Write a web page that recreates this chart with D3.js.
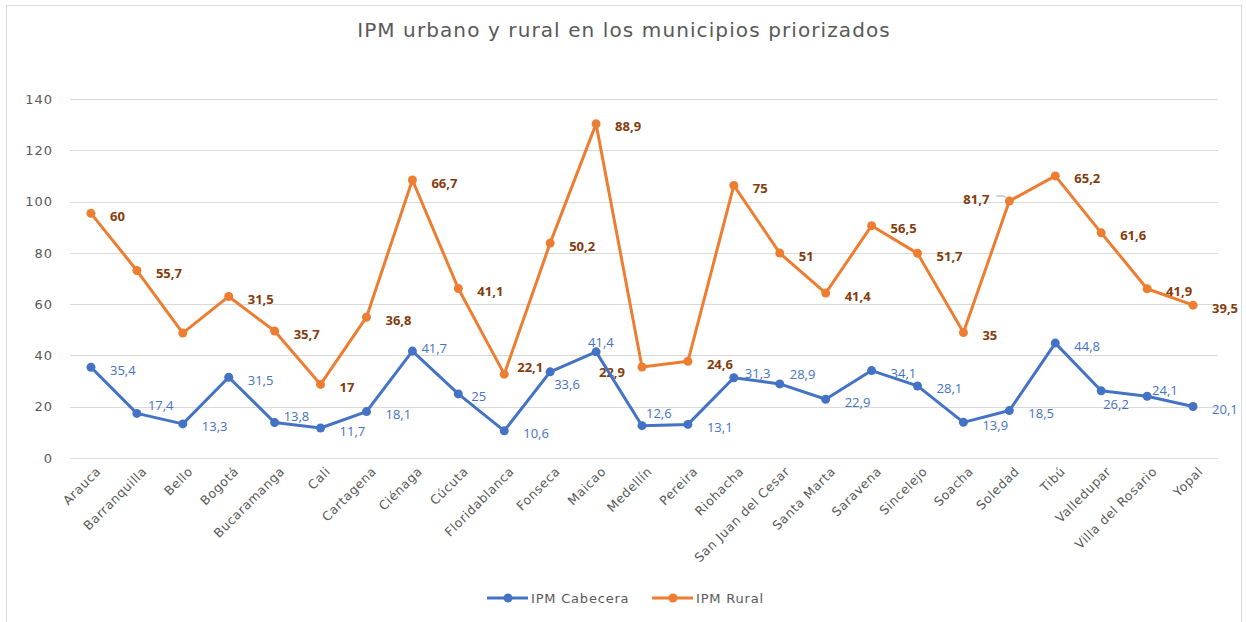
<!DOCTYPE html>
<html lang="es">
<head>
    <meta charset="UTF-8">
    <title>IPM urbano y rural en los municipios priorizados</title>
    <style>
        body, html {
            margin: 0;
            padding: 0;
            background-color: #ffffff;
            font-family: "DejaVu Sans", "Noto Sans", sans-serif;
        }
        svg {
            display: block;
        }
        .grid line {
            stroke: #d9d9d9;
            stroke-width: 1px;
        }
        .axis text {
            fill: #595959;
            font-family: "DejaVu Sans", sans-serif;
            font-size: 13px;
            letter-spacing: 1px;
        }
        .line {
            fill: none;
            stroke-width: 3px;
            stroke-linejoin: round;
        }
        .lbl-cab {
            fill: #4472c4;
            font-family: "Open Sans", sans-serif;
            font-size: 13px;
        }
        .lbl-rur {
            fill: #843c0c;
            font-family: "Open Sans", sans-serif;
            font-size: 13px;
            font-weight: bold;
        }
    </style>
</head>
<body>
    <div id="chart"></div>

    <script src="https://d3js.org/d3.v7.min.js"></script>

    <script>
        const municipios = ['Arauca', 'Barranquilla', 'Bello', 'Bogotá', 'Bucaramanga', 'Cali', 'Cartagena',
            'Ciénaga', 'Cúcuta', 'Floridablanca', 'Fonseca', 'Maicao', 'Medellín', 'Pereira', 'Riohacha',
            'San Juan del Cesar', 'Santa Marta', 'Saravena', 'Sincelejo', 'Soacha', 'Soledad', 'Tibú',
            'Valledupar', 'Villa del Rosario', 'Yopal'];

        const ipmCabecera = [35.4, 17.4, 13.3, 31.5, 13.8, 11.7, 18.1, 41.7, 25, 10.6, 33.6, 41.4, 12.6,
            13.1, 31.3, 28.9, 22.9, 34.1, 28.1, 13.9, 18.5, 44.8, 26.2, 24.1, 20.1];

        // serie apilada sobre la cabecera (como en el gráfico original)
        const ipmRural = [60, 55.7, 35.4, 31.5, 35.7, 17, 36.8, 66.7, 41.1, 22.1, 50.2, 88.9, 22.9,
            24.6, 75, 51, 41.4, 56.5, 51.7, 35, 81.7, 65.2, 61.6, 41.9, 39.5];

        // Bello no muestra etiqueta en el original
        const rurHidden = [2];

        const yTicks = [0, 20, 40, 60, 80, 100, 120, 140];

        // ajustes manuales de etiquetas (dx, dy respecto al punto)
        const cabNudge = { 1: [11, -8], 4: [9, -6], 7: [9, -3], 8: [13, 3], 10: [4, 13], 11: [-8, -9],
            12: [4, -12], 14: [11, -4], 15: [10, -9], 22: [2, 14], 23: [5, -6] };
        const rurNudge = { 9: [13, -7], 12: [-17, 5], 20: [-20, -2] };

        const width = 1246, height = 622;

        const svg = d3.select('#chart').append('svg')
            .attr('width', width)
            .attr('height', height);

        // marco del gráfico
        svg.append('rect')
            .attr('x', 6.5).attr('y', 5.5)
            .attr('width', 1235).attr('height', 630)
            .attr('fill', 'none')
            .attr('stroke', '#d9d9d9');

        svg.append('text')
            .attr('x', 624).attr('y', 37)
            .attr('text-anchor', 'middle')
            .attr('fill', '#595959')
            .style('font-size', '20px')
            .style('letter-spacing', '1.1px')
            .text('IPM urbano y rural en los municipios priorizados');

        const x = d3.scalePoint()
            .domain(municipios)
            .range([68, 1216])
            .padding(0.5);

        const y = d3.scaleLinear()
            .domain([0, 140])
            .range([458, 99]);

        // líneas de la cuadrícula
        svg.append('g').attr('class', 'grid')
            .selectAll('line')
            .data(yTicks)
            .enter().append('line')
            .attr('x1', 70).attr('x2', 1218)
            .attr('y1', d => Math.round(y(d)) + 0.5)
            .attr('y2', d => Math.round(y(d)) + 0.5);

        const yAxis = svg.append('g').attr('class', 'axis')
            .attr('transform', 'translate(53,0)')
            .call(d3.axisLeft(y).tickValues(yTicks).tickSize(0).tickPadding(0));
        yAxis.select('.domain').remove();

        const xAxis = svg.append('g').attr('class', 'axis')
            .attr('transform', 'translate(0,466)')
            .call(d3.axisBottom(x).tickSize(0).tickPadding(0));
        xAxis.select('.domain').remove();
        xAxis.selectAll('text')
            .style('font-size', '12.5px')
            .style('letter-spacing', '0.6px')
            .attr('text-anchor', 'end')
            .attr('dy', '0.7em')
            .attr('transform', 'translate(4,0) rotate(-45)');

        const cabData = municipios.map((m, i) => ({ m, i, v: ipmCabecera[i], top: ipmCabecera[i] }));
        const rurData = municipios.map((m, i) => ({ m, i, v: ipmRural[i], top: ipmCabecera[i] + ipmRural[i] }));

        const line = d3.line()
            .x(d => x(d.m))
            .y(d => y(d.top));

        function drawSeries(data, color, cls, nudge, hidden) {
            svg.append('path')
                .datum(data)
                .attr('class', 'line')
                .attr('stroke', color)
                .attr('d', line);

            svg.append('g')
                .selectAll('circle')
                .data(data)
                .enter().append('circle')
                .attr('cx', d => x(d.m))
                .attr('cy', d => y(d.top))
                .attr('r', 4.5)
                .attr('fill', color);

            svg.append('g')
                .selectAll('text')
                .data(data.filter(d => !hidden.includes(d.i)))
                .enter().append('text')
                .attr('class', cls)
                .attr('x', d => x(d.m) + (nudge[d.i] ? nudge[d.i][0] : 19))
                .attr('y', d => y(d.top) + (nudge[d.i] ? nudge[d.i][1] : 3))
                .attr('dy', '0.35em')
                .attr('text-anchor', d => (nudge[d.i] && nudge[d.i][0] < -10) ? 'end' : 'start')
                .text(d => String(d.v).replace('.', ','));
        }

        drawSeries(rurData, '#ed7d31', 'lbl-rur', rurNudge, rurHidden);
        drawSeries(cabData, '#4472c4', 'lbl-cab', cabNudge, []);

        // línea guía de la etiqueta de Soledad
        const sol = rurData[20];
        svg.append('path')
            .attr('d', `M${x(sol.m) - 13},${y(sol.top) - 5}h8l4,4`)
            .attr('fill', 'none')
            .attr('stroke', '#a6a6a6')
            .attr('stroke-width', 1);

        // leyenda
        const legend = [
            { name: 'IPM Cabecera', color: '#4472c4', x: 487 },
            { name: 'IPM Rural', color: '#ed7d31', x: 652 }
        ];
        const lg = svg.append('g').selectAll('g')
            .data(legend)
            .enter().append('g')
            .attr('transform', d => `translate(${d.x},598)`);
        lg.append('line')
            .attr('x1', 0).attr('x2', 41)
            .attr('stroke', d => d.color)
            .attr('stroke-width', 3);
        lg.append('circle')
            .attr('cx', 21).attr('r', 4.5)
            .attr('fill', d => d.color);
        lg.append('text')
            .attr('x', 44).attr('dy', '0.35em')
            .attr('fill', '#595959')
            .style('font-size', '13px')
            .style('letter-spacing', '0.8px')
            .text(d => d.name);
    </script>
</body>
</html>
